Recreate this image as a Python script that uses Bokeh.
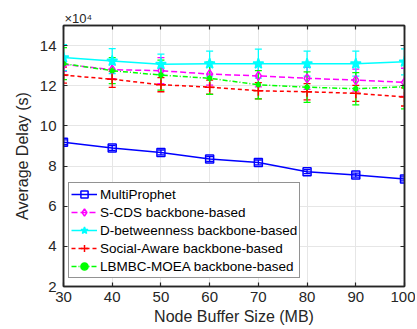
from bokeh.plotting import figure
from bokeh.models import (ColumnDataSource, Whisker, TeeHead, Legend, LegendItem,
                          LinearAxis, FixedTicker, Range1d)
from bokeh.embed import file_html
from bokeh.resources import INLINE

buffer_sizes = [30, 40, 50, 60, 70, 80, 90, 100]
x_ticks = [30, 40, 50, 60, 70, 80, 90, 100]
y_ticks = [2, 4, 6, 8, 10, 12, 14]

multiprophet = [9.18, 8.90, 8.68, 8.35, 8.18, 7.72, 7.55, 7.36]
multiprophet_err = [0.12, 0.12, 0.12, 0.12, 0.12, 0.1, 0.1, 0.1]
scds = [13.07, 12.80, 12.75, 12.58, 12.49, 12.37, 12.28, 12.17]
scds_err = [0.35, 0.45, 0.65, 0.55, 0.55, 0.55, 0.55, 0.7]
dbet = [13.40, 13.23, 13.07, 13.10, 13.10, 13.10, 13.10, 13.19]
dbet_err = [0.65, 0.62, 0.5, 0.62, 0.72, 0.62, 0.62, 0.65]
social = [12.53, 12.32, 12.05, 11.93, 11.75, 11.70, 11.62, 11.44]
social_err = [0.4, 0.4, 0.35, 0.35, 0.4, 0.4, 0.4, 0.45]
lbmbc = [13.10, 12.75, 12.53, 12.37, 12.05, 11.93, 11.85, 11.95]
lbmbc_err = [0.8, 0.65, 0.75, 0.8, 0.7, 0.76, 0.8, 1.1]

names = ["MultiProphet", "S-CDS backbone-based", "D-betweenness backbone-based",
         "Social-Aware backbone-based", "LBMBC-MOEA backbone-based"]

series = [
    (multiprophet, multiprophet_err, "#0000ff", "solid", "square", 8, 0.0),
    (scds, scds_err, "#ff00ff", "6 3", "diamond", 9, 0.0),
    (dbet, dbet_err, "#00ffff", "solid", "star", 11, 1.0),
    (social, social_err, "#ff0000", "4 3", "cross", 10, 1.0),
    (lbmbc, lbmbc_err, "#00ff00", "5 2 1 2", "circle", 4, 1.0),
]

FONT = "Liberation Sans"
DARK = "#262626"

p = figure(width=415, height=327, output_backend="svg", toolbar_location=None,
           x_range=Range1d(30, 100), y_range=Range1d(2, 15),
           min_border_left=63, min_border_right=11, min_border_top=25,
           min_border_bottom=38)
p.background_fill_color = "white"
p.border_fill_color = "white"
p.outline_line_color = DARK
p.outline_line_width = 1.5

p.title.text = "×10⁴"
p.title.align = "left"
p.title.text_font = FONT
p.title.text_font_size = "13px"
p.title.text_font_style = "normal"
p.title.text_color = DARK
p.title.offset = 1
p.title.standoff = 0

for ax in (p.xaxis[0], p.yaxis[0]):
    ax.major_tick_in = 4
    ax.major_tick_out = 0
    ax.minor_tick_line_color = None
    ax.axis_line_color = DARK
    ax.axis_line_width = 1.5
    ax.major_tick_line_color = DARK
    ax.major_tick_line_width = 1.2
    ax.major_label_text_font = FONT
    ax.major_label_text_font_size = "15px"
    ax.major_label_text_color = DARK
    ax.axis_label_text_font = FONT
    ax.axis_label_text_font_size = "16px"
    ax.axis_label_text_font_style = "normal"
    ax.axis_label_text_color = DARK

p.xaxis[0].ticker = FixedTicker(ticks=x_ticks)
p.yaxis[0].ticker = FixedTicker(ticks=y_ticks)
p.xaxis[0].major_label_standoff = 5
p.xaxis[0].axis_label_standoff = 3
p.yaxis[0].major_label_standoff = 7
p.yaxis[0].axis_label_standoff = 6
p.xaxis[0].axis_label = "Node Buffer Size (MB)"
p.yaxis[0].axis_label = "Average Delay (s)"

for loc, ticks in (("above", x_ticks), ("right", y_ticks)):
    ax = LinearAxis(ticker=FixedTicker(ticks=ticks), major_label_text_font_size="1px",
                    major_label_text_color=None,
                    major_label_standoff=0, major_tick_in=4, major_tick_out=0,
                    minor_tick_line_color=None, axis_line_color=DARK, axis_line_width=1.5,
                    major_tick_line_color=DARK, major_tick_line_width=1.2)
    p.add_layout(ax, loc)

p.xgrid.ticker = FixedTicker(ticks=x_ticks)
p.ygrid.ticker = FixedTicker(ticks=y_ticks)
p.grid.grid_line_color = "#e6e6e6"
p.grid.grid_line_width = 1

items = []
for (vals, errs, color, dash, marker, size, fill), name in zip(series, names):
    src = ColumnDataSource(dict(x=buffer_sizes, y=vals,
                                lo=[v - e for v, e in zip(vals, errs)],
                                hi=[v + e for v, e in zip(vals, errs)]))
    w = Whisker(source=src, base="x", lower="lo", upper="hi",
                line_color=color, line_width=1.3,
                upper_head=TeeHead(size=7, line_color=color, line_width=1.3),
                lower_head=TeeHead(size=7, line_color=color, line_width=1.3))
    p.add_layout(w)
    r_line = p.line("x", "y", source=src, line_color=color, line_width=1.5, line_dash=dash)
    r_mark = p.scatter("x", "y", source=src, marker=marker, size=size,
                       line_color=color, fill_color=color, fill_alpha=fill, line_width=1.5)
    items.append(LegendItem(label=name, renderers=[r_line, r_mark]))

legend = Legend(items=items, location=(5, 8), label_text_font=FONT,
                label_text_font_size="13.5px", label_text_color="#000000",
                label_height=18, glyph_height=18, glyph_width=26, label_standoff=3,
                padding=2, spacing=0, margin=0,
                border_line_color=DARK, border_line_width=1.5,
                background_fill_color="white", background_fill_alpha=1)
p.add_layout(legend, "center")

open("out.html", "w").write(file_html(p, INLINE))
